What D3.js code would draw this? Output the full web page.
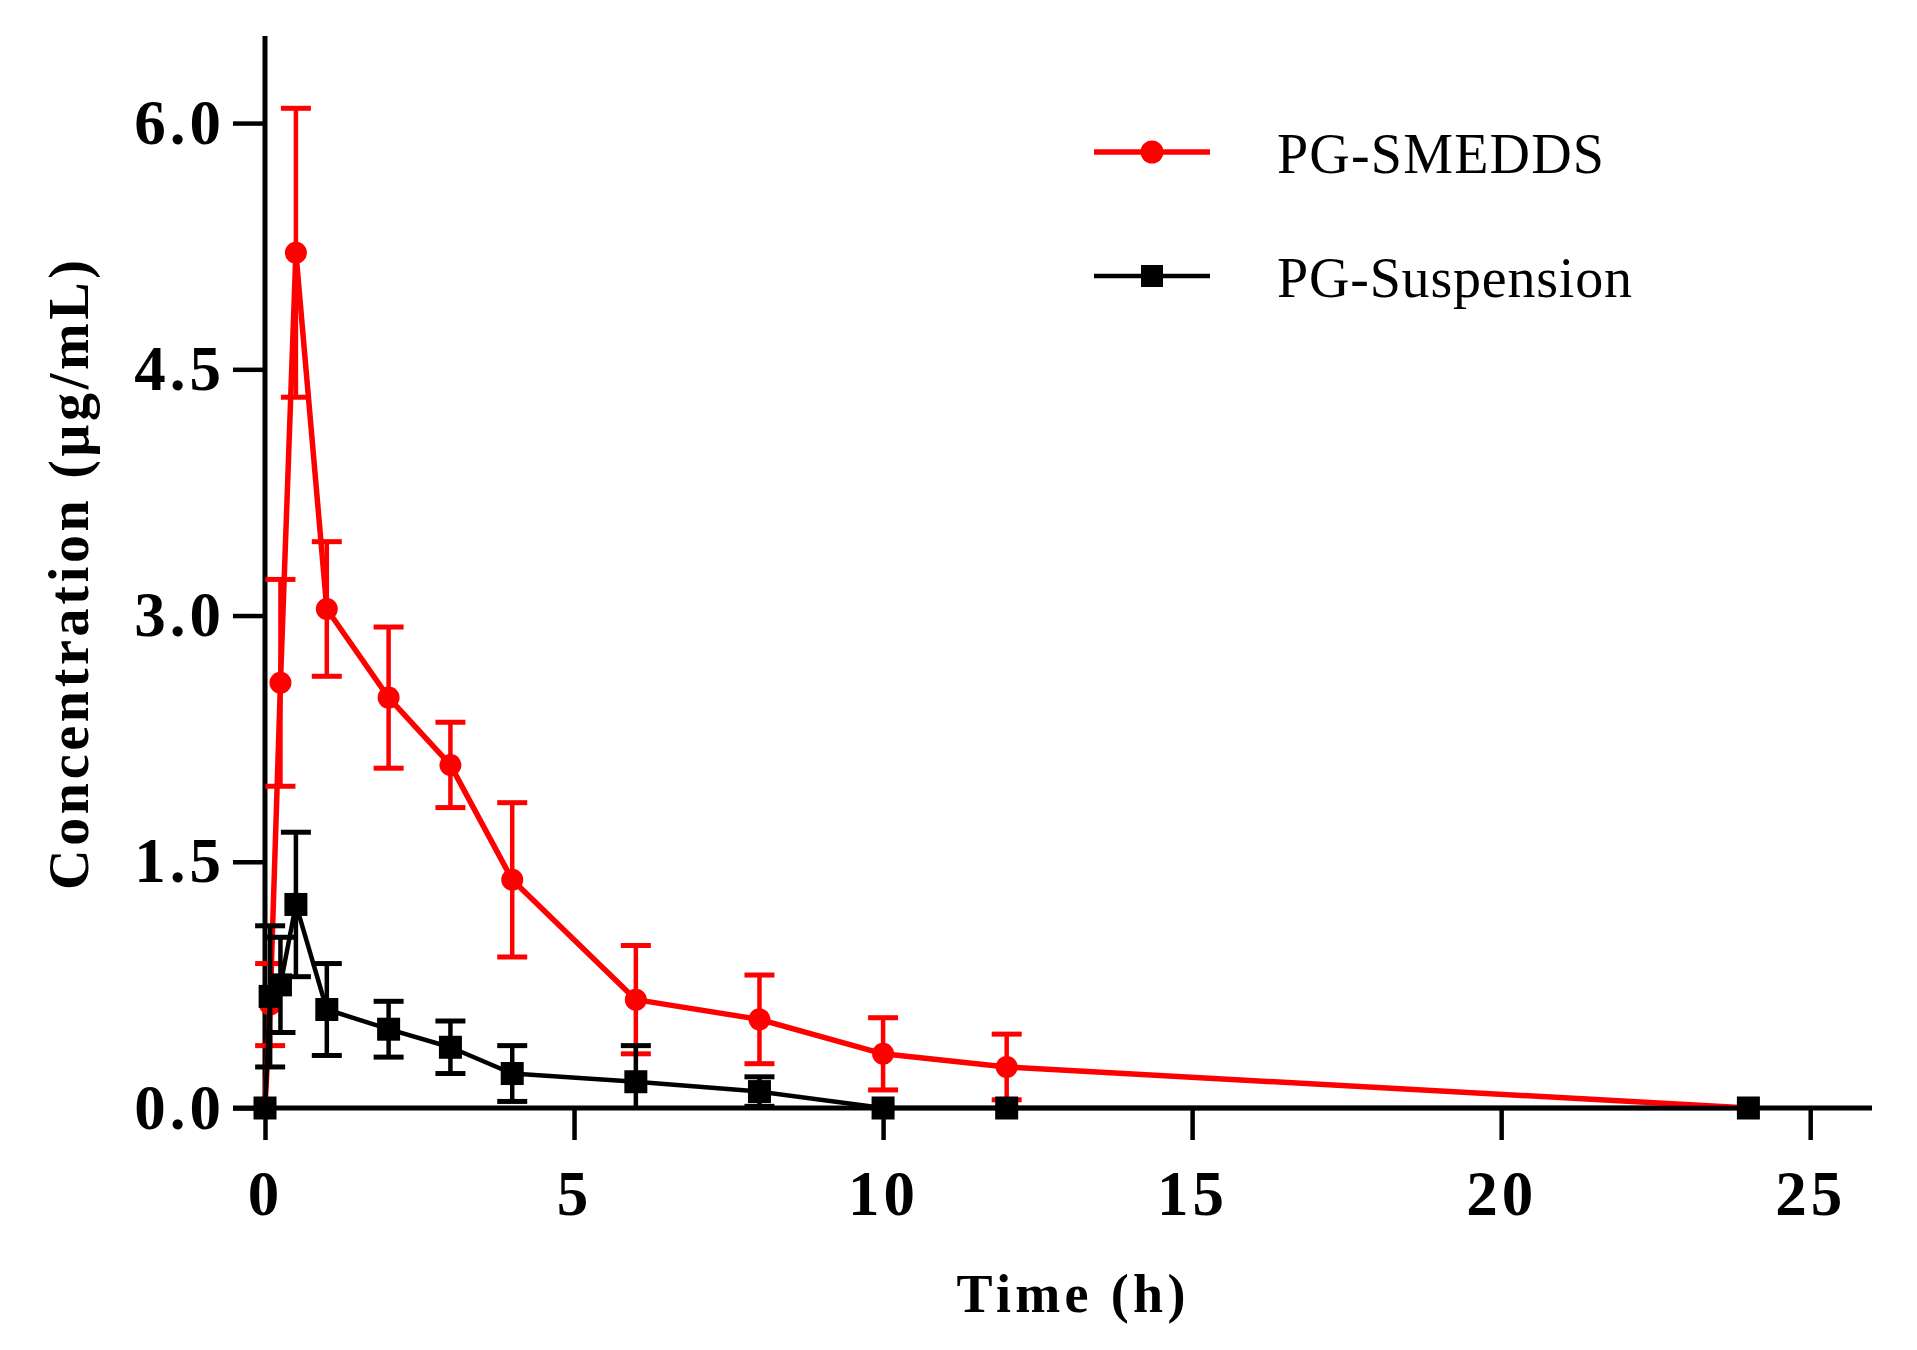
<!DOCTYPE html>
<html>
<head>
<meta charset="utf-8">
<script src="https://cdn.jsdelivr.net/npm/d3@7/dist/d3.min.js"></script>
<style>
  html, body { margin: 0; padding: 0; background: #ffffff; }
  svg { display: block; }
</style>
</head>
<body>
<svg id="chart" width="1917" height="1350"></svg>
<script>
// ---- Data ----
const times       = [0, 0.083, 0.25, 0.5, 1, 2, 3, 4, 6, 8, 10, 12, 24];
const smeddsMean  = [0, 0.63, 2.59, 5.21, 3.04, 2.50, 2.09, 1.39, 0.66, 0.54, 0.33, 0.25, 0];
const smeddsSD    = [0, 0.25, 0.63, 0.88, 0.41, 0.43, 0.26, 0.47, 0.33, 0.27, 0.22, 0.20, 0];
const suspMean    = [0, 0.68, 0.75, 1.24, 0.60, 0.48, 0.37, 0.21, 0.16, 0.10, 0, 0, 0];
const suspSD      = [0, 0.43, 0.29, 0.44, 0.28, 0.17, 0.16, 0.17, 0.22, 0.09, 0, 0, 0];
const xTicks      = [0, 5, 10, 15, 20, 25];
const yTicks      = [0, 1.5, 3.0, 4.5, 6.0];
const seriesNames = ["PG-SMEDDS", "PG-Suspension"];
const xTitle      = "Time (h)";
const yTitle      = "Concentration (\u03bcg/mL)";

const svg = d3.select("#chart");
const x = d3.scaleLinear().domain([0, 26]).range([265, 1872]);
const y = d3.scaleLinear().domain([0, 6.5]).range([1108, 41]);

const serif = "'Liberation Serif', 'Times New Roman', serif";

// clip for error bars
svg.append("defs").append("clipPath").attr("id", "plotclip")
  .append("rect").attr("x", 200).attr("y", 0).attr("width", 1717).attr("height", y(0));

function makeSeries(means, sds) {
  return times.map((t, i) => ({ t, m: means[i], sd: sds[i] }));
}
const red = makeSeries(smeddsMean, smeddsSD);
const blk = makeSeries(suspMean, suspSD);

const capW = 15;
function drawSeries(data, color, marker, lw) {
  const g = svg.append("g");
  const eb = g.append("g").attr("clip-path", "url(#plotclip)");
  data.filter(d => d.sd > 0).forEach(d => {
    const cx = x(d.t);
    eb.append("line").attr("x1", cx).attr("x2", cx)
      .attr("y1", y(d.m + d.sd)).attr("y2", y(d.m - d.sd))
      .attr("stroke", color).attr("stroke-width", 4.5);
    [d.m + d.sd, d.m - d.sd].forEach(v => {
      eb.append("line").attr("x1", cx - capW).attr("x2", cx + capW)
        .attr("y1", y(v)).attr("y2", y(v))
        .attr("stroke", color).attr("stroke-width", 5);
    });
  });
  const line = d3.line().x(d => x(d.t)).y(d => y(d.m));
  g.append("path").datum(data).attr("d", line)
    .attr("fill", "none").attr("stroke", color)
    .attr("stroke-width", lw)
    .attr("stroke-linejoin", "round");
  if (marker === "circle") {
    g.selectAll("circle").data(data).join("circle")
      .attr("cx", d => x(d.t)).attr("cy", d => y(d.m)).attr("r", 11)
      .attr("fill", color);
  } else {
    const s = 23;
    g.selectAll("rect.m").data(data).join("rect").attr("class", "m")
      .attr("x", d => x(d.t) - s / 2).attr("y", d => y(d.m) - s / 2)
      .attr("width", s).attr("height", s).attr("fill", color);
  }
}

// ---- Axes ----
const yAxis = d3.axisLeft(y).tickValues(yTicks).tickFormat(d3.format(".1f"))
  .tickSize(32).tickSizeOuter(0).tickPadding(8);
const xAxis = d3.axisBottom(x).tickValues(xTicks).tickFormat(d3.format("d"))
  .tickSize(32).tickSizeOuter(0).tickPadding(30);

const gy = svg.append("g").attr("transform", `translate(${x(0)},0)`).call(yAxis);
const gx = svg.append("g").attr("transform", `translate(0,${y(0)})`).call(xAxis);
[gx, gy].forEach(g => {
  g.select(".domain").attr("stroke", "#000").attr("stroke-width", 5);
  g.selectAll(".tick line").attr("stroke", "#000").attr("stroke-width", 4.5);
  g.selectAll(".tick text").attr("fill", "#000")
    .style("font-family", serif).style("font-weight", "bold")
    .style("font-size", "63px").style("letter-spacing", "4px");
});
gy.select(".domain").attr("d", `M0,${y(6.53)}V${y(0)}`);
gx.select(".domain").attr("d", `M${x(0) - 32},0H${x(26)}`);

drawSeries(red, "#ff0000", "circle", 5.5);
drawSeries(blk, "#000000", "square", 4.5);

// ---- Axis titles ----
svg.append("text")
  .attr("transform", `translate(88,575) rotate(-90)`)
  .attr("text-anchor", "middle")
  .attr("textLength", 630).attr("lengthAdjust", "spacing")
  .style("font-family", serif).style("font-weight", "bold").style("font-size", "56px")
  .text(yTitle);

svg.append("text")
  .attr("x", 1071).attr("y", 1312)
  .attr("text-anchor", "middle")
  .attr("textLength", 229).attr("lengthAdjust", "spacing")
  .style("font-family", serif).style("font-weight", "bold").style("font-size", "54px")
  .text(xTitle);

// ---- Legend ----
const legend = svg.append("g");
const legY = [152, 276];
const legLen = [327, 355];
[["#ff0000", "circle"], ["#000000", "square"]].forEach(([c, m], i) => {
  legend.append("line").attr("x1", 1094).attr("x2", 1210)
    .attr("y1", legY[i]).attr("y2", legY[i])
    .attr("stroke", c).attr("stroke-width", i === 0 ? 5.5 : 4.5);
  if (m === "circle") {
    legend.append("circle").attr("cx", 1152).attr("cy", legY[i]).attr("r", 11.5).attr("fill", c);
  } else {
    legend.append("rect").attr("x", 1152 - 11).attr("y", legY[i] - 11)
      .attr("width", 22).attr("height", 22).attr("fill", c);
  }
  legend.append("text").attr("x", 1277).attr("y", legY[i] + 21)
    .attr("textLength", legLen[i]).attr("lengthAdjust", "spacing")
    .style("font-family", serif).style("font-size", "56px")
    .text(seriesNames[i]);
});
</script>
</body>
</html>
